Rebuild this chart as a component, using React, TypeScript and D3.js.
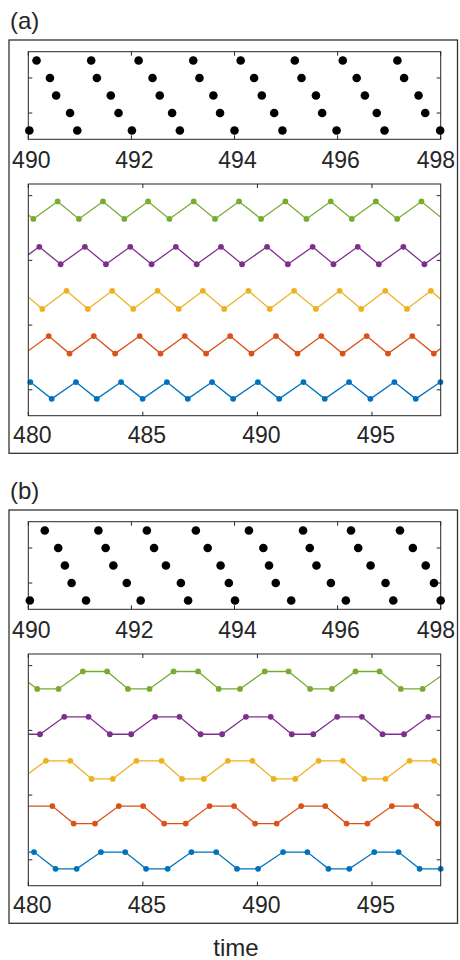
import { useRef, useEffect } from 'react';
import { select, scaleLinear, line } from 'd3';

// Colours of the five units, bottom to top (MATLAB default order)
const COLORS = ['#0072BD', '#D95319', '#EDB120', '#7E2F8E', '#77AC30'];
// Level of each trace when "up" and "down"
const HIGH = [1.12, 1.83, 2.53, 3.21, 3.91];
const LOW = [0.86, 1.56, 2.25, 2.94, 3.64];

// Panel (a): spike times and up/down state for each unit
const BLUE_A_T = [480.09, 481.02, 482.08, 482.99, 484.05, 484.99, 486.05, 486.96, 488.02, 488.94, 490.02, 490.95, 492.01, 492.94, 494.0, 494.93, 495.98, 496.91, 497.99];
const BLUE_A_S = [1, 0, 1, 0, 1, 0, 1, 0, 1, 0, 1, 0, 1, 0, 1, 0, 1, 0, 1];
const ORANGE_A_T = [479.83, 480.89, 481.8, 482.86, 483.79, 484.86, 485.77, 486.83, 487.76, 488.81, 489.74, 490.81, 491.75, 492.79, 493.72, 494.77, 495.7, 496.76, 497.7, 498.76];
const ORANGE_A_S = [0, 1, 0, 1, 0, 1, 0, 1, 0, 1, 0, 1, 0, 1, 0, 1, 0, 1, 0, 1];
const YELLOW_A_T = [479.68, 480.61, 481.67, 482.6, 483.66, 484.58, 485.64, 486.57, 487.62, 488.55, 489.61, 490.54, 491.6, 492.55, 493.59, 494.53, 495.58, 496.53, 497.57, 498.5];
const YELLOW_A_S = [1, 0, 1, 0, 1, 0, 1, 0, 1, 0, 1, 0, 1, 0, 1, 0, 1, 0, 1, 0];
const PURPLE_A_T = [479.42, 480.48, 481.41, 482.47, 483.39, 484.45, 485.38, 486.44, 487.35, 488.41, 489.33, 490.42, 491.33, 492.41, 493.32, 494.38, 495.3, 496.37, 497.29, 498.35];
const PURPLE_A_S = [0, 1, 0, 1, 0, 1, 0, 1, 0, 1, 0, 1, 0, 1, 0, 1, 0, 1, 0, 1];
const GREEN_A_T = [479.29, 480.22, 481.28, 482.21, 483.26, 484.19, 485.23, 486.16, 487.22, 488.15, 489.2, 490.16, 491.22, 492.14, 493.2, 494.12, 495.17, 496.1, 497.16, 498.09];
const GREEN_A_S = [1, 0, 1, 0, 1, 0, 1, 0, 1, 0, 1, 0, 1, 0, 1, 0, 1, 0, 1, 0];

// Panel (b)
const BLUE_B_T = [479.2, 480.25, 481.19, 482.11, 483.17, 484.23, 485.14, 486.08, 487.12, 488.2, 489.11, 490.03, 491.12, 492.18, 493.1, 494.01, 495.1, 496.16, 497.08, 498.0];
const BLUE_B_S = [1, 1, 0, 0, 1, 1, 0, 0, 1, 1, 0, 0, 1, 1, 0, 0, 1, 1, 0, 0];
const ORANGE_B_T = [479.95, 481.05, 481.98, 482.91, 483.95, 485.01, 485.93, 486.87, 487.91, 488.98, 489.9, 490.84, 491.91, 492.96, 493.89, 494.8, 495.87, 496.93, 497.87, 498.8];
const ORANGE_B_S = [1, 1, 0, 0, 1, 1, 0, 0, 1, 1, 0, 0, 1, 1, 0, 0, 1, 1, 0, 0];
const YELLOW_B_T = [479.7, 480.77, 481.83, 482.76, 483.69, 484.72, 485.82, 486.71, 487.66, 488.71, 489.78, 490.71, 491.65, 492.67, 493.73, 494.67, 495.59, 496.64, 497.71, 498.7];
const YELLOW_B_S = [0, 1, 1, 0, 0, 1, 1, 0, 0, 1, 1, 0, 0, 1, 1, 0, 0, 1, 1, 0];
const PURPLE_B_T = [479.5, 480.51, 481.57, 482.63, 483.56, 484.49, 485.54, 486.6, 487.52, 488.46, 489.5, 490.58, 491.5, 492.44, 493.48, 494.56, 495.46, 496.4, 497.46, 498.5];
const PURPLE_B_S = [0, 0, 1, 1, 0, 0, 1, 1, 0, 0, 1, 1, 0, 0, 1, 1, 0, 0, 1, 1];
const GREEN_B_T = [479.35, 480.39, 481.32, 482.38, 483.44, 484.35, 485.29, 486.34, 487.41, 488.31, 489.24, 490.32, 491.36, 492.3, 493.25, 494.28, 495.33, 496.26, 497.21, 498.3];
const GREEN_B_S = [1, 0, 0, 1, 1, 0, 0, 1, 1, 0, 0, 1, 1, 0, 0, 1, 1, 0, 0, 1];

// Axis ticks
const RASTER_X_TICKS = [490, 492, 494, 496, 498];
const RASTER_Y_TICKS = [2, 4];
const TRACE_X_TICKS = [480, 485, 490, 495];
const TRACE_Y_TICKS = [1, 2, 3, 4];

const PANELS = [
    {
        label: '(a)',
        times: [BLUE_A_T, ORANGE_A_T, YELLOW_A_T, PURPLE_A_T, GREEN_A_T],
        states: [BLUE_A_S, ORANGE_A_S, YELLOW_A_S, PURPLE_A_S, GREEN_A_S],
    },
    {
        label: '(b)',
        times: [BLUE_B_T, ORANGE_B_T, YELLOW_B_T, PURPLE_B_T, GREEN_B_T],
        states: [BLUE_B_S, ORANGE_B_S, YELLOW_B_S, PURPLE_B_S, GREEN_B_S],
    },
];

const AXIS_COLOR = '#262626';
const FONT = 'Arial, "Liberation Sans", Helvetica, sans-serif';

function App() {
    const graphRef = useRef<SVGSVGElement | null>(null);

    // Dimensions
    const width = 460;
    const height = 960;
    const panelStep = 470;
    const left = 28.3;
    const right = 440.7;

    useEffect(() => {
        const svg = select(graphRef.current);
        svg.selectAll('*').remove();

        PANELS.forEach((panel, p) => {
            const oy = p * panelStep;
            const g = svg.append('g').attr('transform', `translate(0, ${oy})`);

            // Panel letter + outer frame
            g.append('text')
                .text(panel.label)
                .attr('x', 10)
                .attr('y', 29)
                .style('font-family', FONT)
                .style('font-size', '24px')
                .style('fill', AXIS_COLOR);
            g.append('rect')
                .attr('x', 9)
                .attr('y', 40)
                .attr('width', 448.5)
                .attr('height', 413.3)
                .attr('fill', 'none')
                .attr('stroke', '#333')
                .attr('stroke-width', 1.3);

            // ---------- Raster ----------
            const rTop = 51.7;
            const rBottom = 139.3;
            const xR = scaleLinear().domain([490, 498]).range([left, right]);
            const yR = scaleLinear().domain([0.5, 5.5]).range([rBottom, rTop]);

            const spikes: { t: number; row: number }[] = [];
            panel.times.forEach((ts, i) => {
                ts.filter((t) => t >= 489.99 && t <= 498.01).forEach((t) =>
                    spikes.push({ t, row: i + 1 })
                );
            });

            drawBox(g, xR, yR, RASTER_X_TICKS, RASTER_Y_TICKS);

            g.append('g')
                .selectAll('circle')
                .data(spikes)
                .join('circle')
                .attr('cx', (d) => xR(d.t))
                .attr('cy', (d) => yR(d.row))
                .attr('r', 4.3)
                .attr('fill', 'black');

            g.append('g')
                .selectAll('text')
                .data(RASTER_X_TICKS)
                .join('text')
                .text((d) => d)
                .attr('x', (d, i) => (i === RASTER_X_TICKS.length - 1 ? 455 : xR(d) + 3))
                .attr('y', rBottom + 29)
                .attr('text-anchor', (d, i) => (i === RASTER_X_TICKS.length - 1 ? 'end' : 'middle'))
                .style('font-family', FONT)
                .style('font-size', '23px')
                .style('fill', AXIS_COLOR);

            // ---------- Traces ----------
            const tTop = 184;
            const tBottom = 415.7;
            const xT = scaleLinear().domain([480, 498]).range([left, right]);
            const yT = scaleLinear().domain([0.6, 4.18]).range([tBottom, tTop]);

            const clipId = `clip-${p}`;
            g.append('clipPath')
                .attr('id', clipId)
                .append('rect')
                .attr('x', left)
                .attr('y', tTop)
                .attr('width', right - left)
                .attr('height', tBottom - tTop);

            const traces = g.append('g').attr('clip-path', `url(#${clipId})`);
            const path = line<[number, number]>()
                .x((d) => xT(d[0]))
                .y((d) => yT(d[1]));

            panel.times.forEach((ts, i) => {
                const pts: [number, number][] = ts.map((t, k) => [
                    t,
                    panel.states[i][k] ? HIGH[i] : LOW[i],
                ]);
                traces
                    .append('path')
                    .attr('d', path(pts))
                    .attr('fill', 'none')
                    .attr('stroke', COLORS[i])
                    .attr('stroke-width', 1.3);
                g.append('g')
                    .selectAll('circle')
                    .data(pts.filter((d) => d[0] >= 480 && d[0] <= 498))
                    .join('circle')
                    .attr('cx', (d) => xT(d[0]))
                    .attr('cy', (d) => yT(d[1]))
                    .attr('r', 2.9)
                    .attr('fill', COLORS[i]);
            });

            drawBox(g, xT, yT, TRACE_X_TICKS, TRACE_Y_TICKS);

            g.append('g')
                .selectAll('text')
                .data(TRACE_X_TICKS)
                .join('text')
                .text((d) => d)
                .attr('x', (d) => xT(d) + 4)
                .attr('y', tBottom + 27.5)
                .attr('text-anchor', 'middle')
                .style('font-family', FONT)
                .style('font-size', '23px')
                .style('fill', AXIS_COLOR);
        });

        // x label
        svg.append('text')
            .text('time')
            .attr('x', 236)
            .attr('y', 956)
            .attr('text-anchor', 'middle')
            .style('font-family', FONT)
            .style('font-size', '24px')
            .style('fill', AXIS_COLOR);
    }, []);

    return (
        <div style={{ position: 'absolute', left: 0, top: 0 }}>
            <svg ref={graphRef} width={width} height={height} viewBox={`0 0 ${width} ${height}`}></svg>
        </div>
    );
}

// Axes box with inward ticks on all four sides
function drawBox(g: any, x: any, y: any, xTicks: number[], yTicks: number[]) {
    const [x0, x1] = x.range();
    const [y0, y1] = y.range(); // y0 bottom, y1 top
    const tick = 4;
    const box = g.append('g').attr('stroke', AXIS_COLOR).attr('stroke-width', 1);

    box.append('rect')
        .attr('x', x0)
        .attr('y', y1)
        .attr('width', x1 - x0)
        .attr('height', y0 - y1)
        .attr('fill', 'none');

    box.selectAll('.xt')
        .data(xTicks)
        .join('path')
        .attr('class', 'xt')
        .attr('d', (d: number) => `M${x(d)},${y0}v${-tick}M${x(d)},${y1}v${tick}`);

    box.selectAll('.yt')
        .data(yTicks)
        .join('path')
        .attr('class', 'yt')
        .attr('d', (d: number) => `M${x0},${y(d)}h${tick}M${x1},${y(d)}h${-tick}`);
}

export default App;
